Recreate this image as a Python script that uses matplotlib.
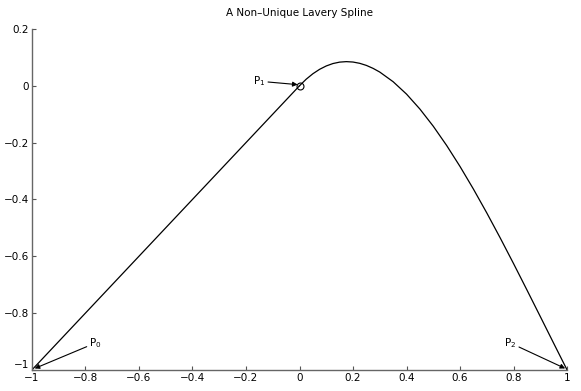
import matplotlib
matplotlib.use('Agg')
import matplotlib.pyplot as plt

# straight segment P0 -> P1
line_x = [-1.0, 0.0]
line_y = [-1.0, 0.0]

# curved segment P1 -> P2
curve_x = [0.0, 0.025, 0.05, 0.075, 0.1, 0.125, 0.15, 0.175, 0.2, 0.225, 0.25,
           0.275, 0.3, 0.35, 0.4, 0.45, 0.5, 0.55, 0.6, 0.65, 0.7, 0.75, 0.8,
           0.85, 0.9, 0.95, 1.0]
curve_y = [0.0, 0.0231, 0.0423, 0.0578, 0.0697, 0.0782, 0.0832, 0.0849, 0.0835,
           0.0790, 0.0716, 0.0612, 0.0482, 0.0142, -0.0294, -0.082, -0.1425,
           -0.2102, -0.2842, -0.3636, -0.4476, -0.5353, -0.6259, -0.7186,
           -0.8123, -0.9064, -1.0]

xticks = [-1, -0.8, -0.6, -0.4, -0.2, 0, 0.2, 0.4, 0.6, 0.8, 1]
yticks = [-1, -0.8, -0.6, -0.4, -0.2, 0, 0.2]
xlabels = ['\u22121', '\u22120.8', '\u22120.6', '\u22120.4', '\u22120.2', '0',
           '0.2', '0.4', '0.6', '0.8', '1']
ylabels = ['\u22121', '\u22120.8', '\u22120.6', '\u22120.4', '\u22120.2', '0', '0.2']

plt.rcParams['font.family'] = ['DejaVu Sans']
plt.rcParams['font.size'] = 7.5

fig = plt.figure(figsize=(5.81, 3.91), dpi=100)
ax = fig.add_axes([0.055, 0.054, 0.921, 0.872])

ax.plot(line_x, line_y, color='k', lw=0.9)
ax.plot(curve_x, curve_y, color='k', lw=0.9)
ax.plot([0], [0], 'o', mfc='none', mec='k', ms=5, mew=0.8)

arrow = dict(arrowstyle='-|>', color='k', lw=0.8, mutation_scale=7, shrinkA=0, shrinkB=0)
ax.annotate('$\\mathregular{P_1}$', xy=(-0.007, 0.004), xytext=(-0.128, 0.016),
            ha='right', va='center', arrowprops=arrow)
ax.annotate('$\\mathregular{P_0}$', xy=(-0.99, -0.995), xytext=(-0.785, -0.905),
            ha='left', va='center', arrowprops=arrow)
ax.annotate('$\\mathregular{P_2}$', xy=(0.993, -0.995), xytext=(0.81, -0.905),
            ha='right', va='center', arrowprops=arrow)

ax.set_xlim(-1, 1)
ax.set_ylim(-1, 0.2)
ax.set_xticks(xticks)
ax.set_yticks(yticks)
ax.set_xticklabels(xlabels)
ax.set_yticklabels(ylabels)
ax.get_yticklabels()[0].set_va('bottom')
ax.tick_params(direction='in', length=3, width=0.8, color='#555555', pad=2)
for s in ['top', 'right']:
    ax.spines[s].set_visible(False)
for s in ['left', 'bottom']:
    ax.spines[s].set_color('#666666')
    ax.spines[s].set_linewidth(1.0)
ax.set_title('A Non\u2013Unique Lavery Spline', fontsize=7.5, pad=9)

fig.savefig('out.png', dpi=100)
